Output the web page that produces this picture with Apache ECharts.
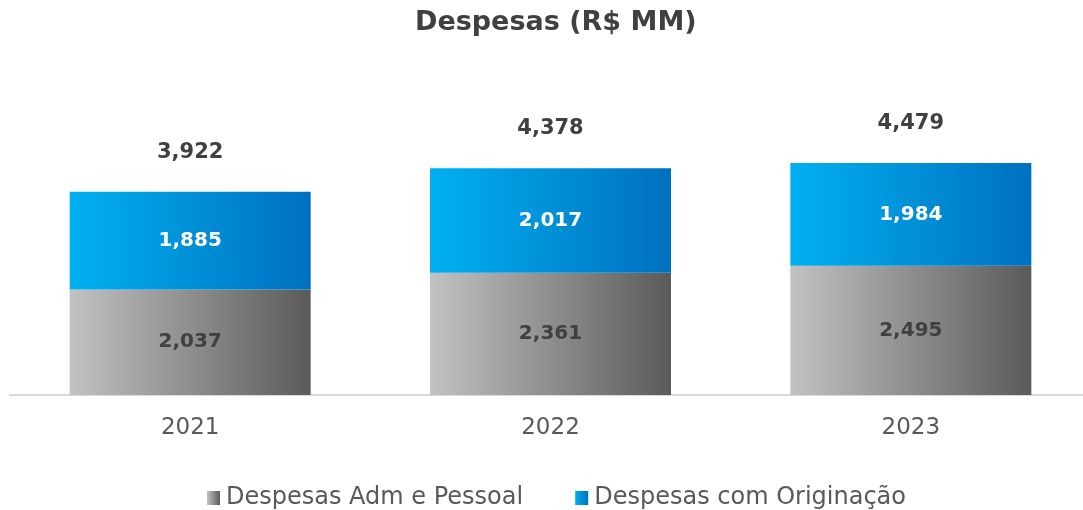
<!DOCTYPE html>
<html>
<head>
<meta charset="utf-8">
<script src="https://cdn.jsdelivr.net/npm/echarts@6/dist/echarts.min.js"></script>
<style>
  html, body { margin: 0; padding: 0; background: #fff; }
  #chart { width: 1083px; height: 510px; }
</style>
</head>
<body>
<div id="chart"></div>
<script>
const years = ["2021", "2022", "2023"];
const admPessoal = [2037, 2361, 2495];
const originacao = [1885, 2017, 1984];
const totals = [3922, 4378, 4479];

const font = "'DejaVu Sans', sans-serif";
const fmt = (v) => v.toLocaleString("en-US");

const greyGrad = new echarts.graphic.LinearGradient(0, 0, 1, 0, [
  { offset: 0, color: "#c2c2c2" },
  { offset: 1, color: "#5a5a5a" },
]);
const blueGrad = new echarts.graphic.LinearGradient(0, 0, 1, 0, [
  { offset: 0, color: "#00b0f0" },
  { offset: 1, color: "#0070c0" },
]);

const myChart = echarts.init(document.getElementById("chart"));
myChart.setOption({
  animation: false,
  title: {
    text: "Despesas (R$ MM)",
    left: 410,
    top: 4,
    textStyle: { fontFamily: font, fontSize: 27, fontWeight: "bold", color: "#404040" },
  },
  legend: {
    bottom: -5,
    left: 202,
    itemWidth: 13,
    itemHeight: 14,
    itemGap: 52,
    icon: "rect",
    data: ["Despesas Adm e Pessoal", "Despesas com Originação"],
    textStyle: { fontFamily: font, fontSize: 24, color: "#595959", padding: [0, 0, 0, 1] },
  },
  grid: { left: 10, width: 1081, top: 136, bottom: 115, outerBoundsMode: "none" },
  xAxis: {
    type: "category",
    data: years,
    axisLine: { lineStyle: { color: "#d9d9d9", width: 2 } },
    axisTick: { show: false },
    axisLabel: { fontFamily: font, fontSize: 23, color: "#595959", margin: 22 },
  },
  yAxis: { type: "value", min: 0, max: 5000, show: false, splitLine: { show: false } },
  series: [
    {
      name: "Despesas Adm e Pessoal",
      type: "bar",
      stack: "total",
      barWidth: 241,
      data: admPessoal,
      itemStyle: { color: greyGrad },
      label: {
        show: true,
        position: "inside",
        formatter: (p) => fmt(p.value),
        fontFamily: font, fontSize: 20, fontWeight: "bold", color: "#404040",
      },
    },
    {
      name: "Despesas com Originação",
      type: "bar",
      stack: "total",
      barWidth: 241,
      data: originacao,
      itemStyle: { color: blueGrad },
      label: {
        show: true,
        position: "inside",
        formatter: (p) => fmt(p.value),
        fontFamily: font, fontSize: 20, fontWeight: "bold", color: "#ffffff",
      },
    },
    {
      name: "Total",
      type: "line",
      data: totals,
      symbol: "circle",
      symbolSize: 2,
      showSymbol: true,
      itemStyle: { color: "rgba(0,0,0,0)", borderWidth: 0 },
      lineStyle: { width: 0, color: "rgba(0,0,0,0)" },
      silent: true,
      label: {
        show: true,
        position: "top",
        distance: 28,
        formatter: (p) => fmt(p.value),
        fontFamily: font, fontSize: 21, fontWeight: "bold", color: "#404040",
      },
    },
  ],
});
</script>
</body>
</html>
